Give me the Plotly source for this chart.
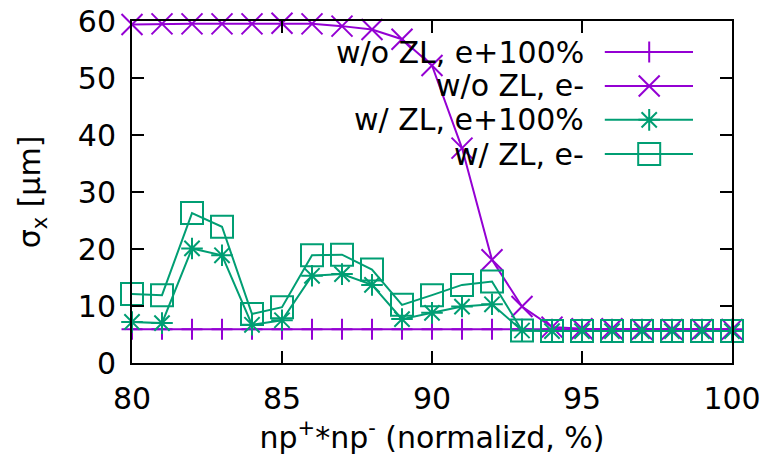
import plotly.graph_objects as go

x = list(range(80, 101))

wo_zl_eplus = [5.9] * 21
wo_zl_eminus = [59.4, 59.5, 59.5, 59.5, 59.5, 59.6, 59.5, 59.1, 58.5, 56.8, 52.2,
                37.7, 18.1, 9.9, 6.3, 6.0, 6.0, 5.9, 5.9, 5.9, 5.9]
w_zl_eplus = [7.2, 7.0, 20.1, 18.9, 6.7, 7.5, 15.3, 15.6, 13.7, 7.7, 8.8,
              9.9, 10.3, 5.7, 5.6, 5.6, 5.6, 5.6, 5.6, 5.6, 5.6]
w_zl_eminus = [12.1, 11.9, 26.3, 23.9, 8.6, 9.8, 18.9, 19.0, 16.4, 10.2, 11.9,
               13.7, 14.3, 5.7, 5.6, 5.6, 5.6, 5.6, 5.6, 5.6, 5.6]

names = ["w/o ZL, e+100%", "w/o ZL, e-", "w/ ZL, e+100%", "w/ ZL, e-"]
series = [wo_zl_eplus, wo_zl_eminus, w_zl_eplus, w_zl_eminus]
colors = ["#9400D3", "#9400D3", "#009E73", "#009E73"]
symbols = ["cross-thin-open", "x-thin-open", "asterisk-open", "square-open"]
sizes = [15, 21, 18, 22]

FONT = "DejaVu Sans"
FS = 30

fig = go.Figure()
for nm, ys, c, s, sz in zip(names, series, colors, symbols, sizes):
    fig.add_trace(go.Scatter(
        x=x, y=ys, name=nm, mode="lines+markers",
        line=dict(color=c, width=2),
        marker=dict(symbol=s, size=sz, color=c, line=dict(color=c, width=2)),
        showlegend=False, cliponaxis=False,
    ))

# custom gnuplot-style key (text right, sample on the right)
row_y = [0.909, 0.810, 0.711, 0.611]
for nm, c, s, sz, ry in zip(names, colors, symbols, sizes, row_y):
    fig.add_trace(go.Scatter(
        x=[0.788, 0.935], y=[ry, ry], mode="lines", xaxis="x2", yaxis="y2",
        line=dict(color=c, width=2), showlegend=False, hoverinfo="skip"))
    fig.add_trace(go.Scatter(
        x=[0.862], y=[ry], mode="markers", xaxis="x2", yaxis="y2",
        marker=dict(symbol=s, size=sz, color=c, line=dict(color=c, width=2)),
        showlegend=False, hoverinfo="skip"))
    fig.add_annotation(x=0.757, y=ry, xref="x2", yref="y2", text=nm,
                       showarrow=False, xanchor="right", yanchor="middle",
                       font=dict(family=FONT, size=FS, color="black"))

axis_common = dict(
    showgrid=False, zeroline=False, showline=True, linecolor="black", linewidth=2,
    mirror="ticks", ticks="inside", ticklen=12, tickwidth=2, tickcolor="black",
    tickfont=dict(family=FONT, size=FS, color="black"), automargin=False,
)

fig.update_layout(
    width=769, height=467,
    margin=dict(l=132, r=37, t=21, b=104, autoexpand=False),
    paper_bgcolor="white", plot_bgcolor="white",
    font=dict(family=FONT, size=FS, color="black"),
    xaxis=dict(range=[80, 100], tickvals=[80, 85, 90, 95, 100],
               title=dict(text="np<sup>+</sup>*np<sup>-</sup> (normalizd, %)",
                          font=dict(family=FONT, size=FS), standoff=12),
               ticklabelstandoff=8, **axis_common),
    yaxis=dict(range=[0, 60], tickvals=[0, 10, 20, 30, 40, 50, 60],
               title=dict(text="σ<sub>x</sub> [μm]",
                          font=dict(family=FONT, size=FS), standoff=28),
               ticklabelstandoff=8, **axis_common),
    xaxis2=dict(range=[0, 1], domain=[0, 1], overlaying="x", visible=False,
                fixedrange=True),
    yaxis2=dict(range=[0, 1], domain=[0, 1], overlaying="y", visible=False,
                fixedrange=True, anchor="x2"),
)

fig.write_html("out.html")
